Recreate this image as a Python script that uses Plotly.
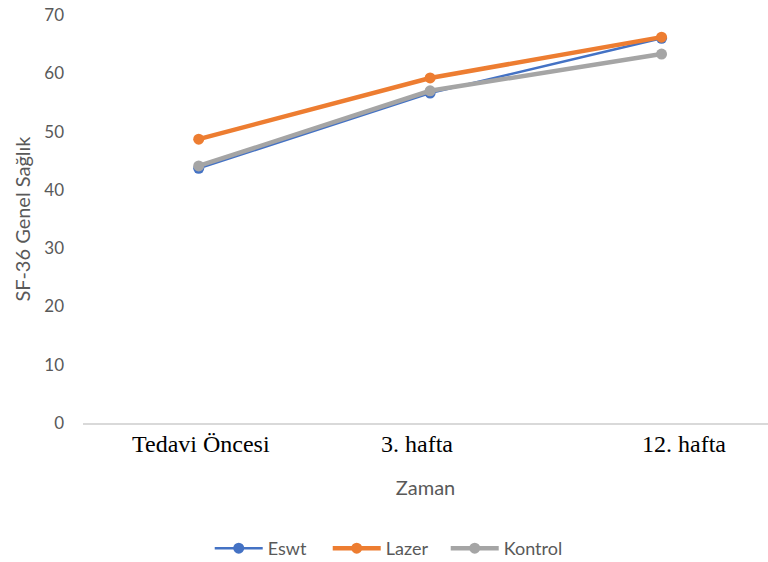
import plotly.graph_objects as go

# Measurement times and SF-36 general health scores per group
zaman = ["Tedavi Öncesi", "3. hafta", "12. hafta"]
eswt = [43.7, 56.6, 66.0]
lazer = [48.7, 59.2, 66.2]
kontrol = [44.1, 57.0, 63.3]

y_ticks = [0, 10, 20, 30, 40, 50, 60, 70]

series = [
    ("Eswt", eswt, "#4472C4", 2.5),
    ("Lazer", lazer, "#ED7D31", 4.5),
    ("Kontrol", kontrol, "#A5A5A5", 4.5),
]

fig = go.Figure()
for name, vals, color, width in series:
    fig.add_trace(go.Scatter(
        x=zaman, y=vals, name=name, mode="lines+markers",
        line=dict(color=color, width=width),
        marker=dict(color=color, size=11),
    ))

label_font = dict(family="Liberation Serif", size=24, color="#000000")
# category labels placed below the axis
for cat, dx in zip(zaman, [2, -13, 22]):
    fig.add_annotation(
        x=cat, y=0, xref="x", yref="paper", yanchor="top",
        text=cat, showarrow=False, xshift=dx, yshift=-6, font=label_font,
    )

fig.update_layout(
    width=768, height=562,
    margin=dict(l=83, r=0, t=15, b=139, autoexpand=False),
    plot_bgcolor="white", paper_bgcolor="white",
    font=dict(family="Lato", color="#595959", size=15),
    showlegend=True,
    legend=dict(
        orientation="h", x=0.185, xanchor="left",
        yref="container", y=0.024, yanchor="middle",
        font=dict(size=18, color="#595959"), itemwidth=48,
        entrywidth=55, entrywidthmode="pixels",
    ),
    xaxis=dict(
        type="category", range=[-0.5, 2.46],
        showticklabels=False, showgrid=False,
        showline=True, linecolor="#D9D9D9", linewidth=1.5,
        zeroline=False,
        title=dict(text="Zaman", font=dict(size=20, color="#595959"), standoff=57),
    ),
    yaxis=dict(
        range=[0, 70], tickvals=y_ticks, showgrid=False, zeroline=False,
        showline=False, ticklabelstandoff=18,
        tickfont=dict(size=17, color="#595959"),
        title=dict(text="SF-36 Genel Sağlık", font=dict(size=20, color="#595959"), standoff=8),
    ),
)

fig.write_html("out.html")
